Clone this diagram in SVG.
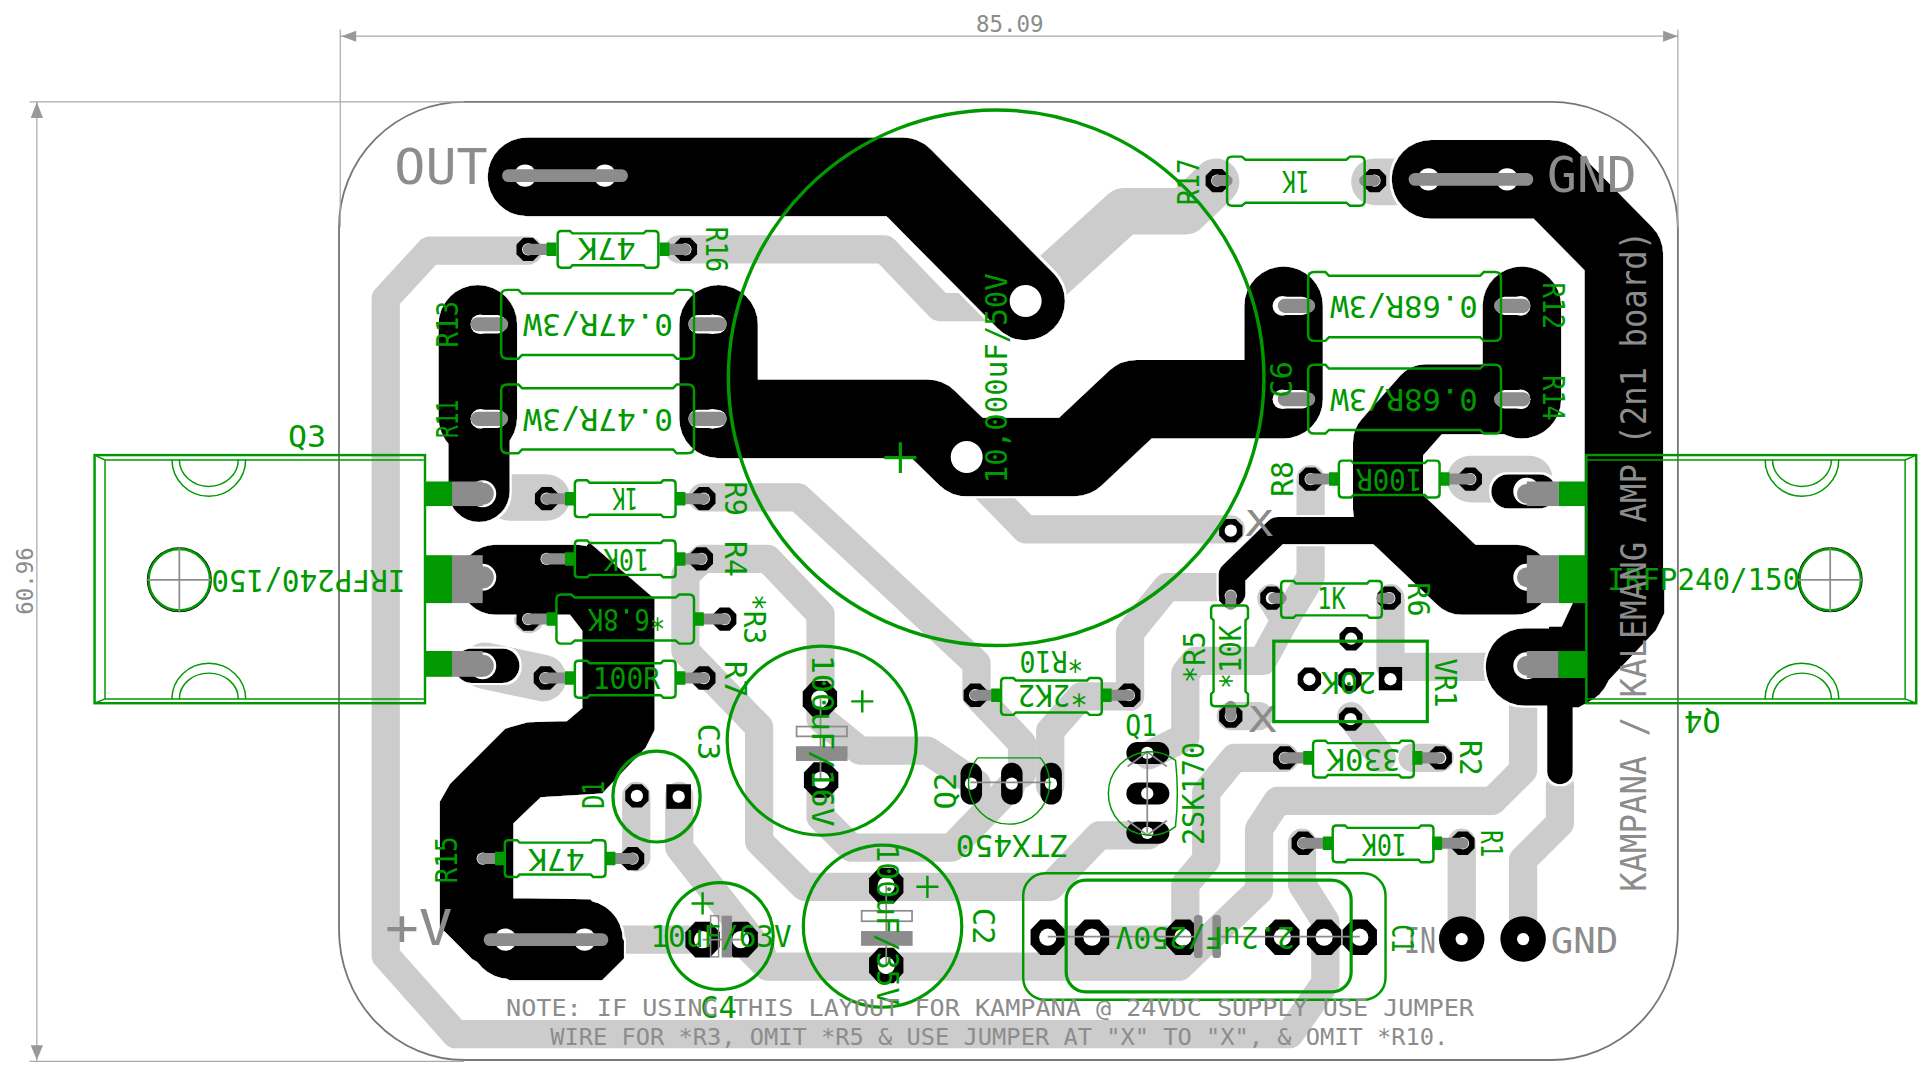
<svg xmlns="http://www.w3.org/2000/svg" xmlns:xlink="http://www.w3.org/1999/xlink" width="1926" height="1071" viewBox="0 0 1926 1071">
<style>
text{font-family:"DejaVu Sans Mono","Liberation Mono",monospace;text-anchor:middle}
.g{font-size:25px;fill:#009900}
.n{font-size:19px;fill:#8c8c8c}
.b{font-size:40px;fill:#8c8c8c}
.m{font-size:29px;fill:#8c8c8c}
.t{fill:none;stroke:#cccccc;stroke-width:23;stroke-linecap:round;stroke-linejoin:round}
.w{fill:none;stroke:#cccccc;stroke-width:38;stroke-linecap:round;stroke-linejoin:round}
.k{fill:none;stroke:#000;stroke-linecap:round;stroke-linejoin:round}
.o{fill:none;stroke:#009900;stroke-width:2}
.f{fill:none;stroke:#009900;stroke-width:1.2}
.c{fill:none;stroke:#009900;stroke-width:2.6}
.l{fill:none;stroke:#8c8c8c;stroke-width:9;stroke-linecap:round}
.lb{fill:none;stroke:#8c8c8c;stroke-width:11.5;stroke-linecap:round}
.lh{fill:none;stroke:#fff;stroke-width:15;stroke-linecap:round}
.s{fill:none;stroke:#009900;stroke-width:11}
.wire{fill:none;stroke:#8c8c8c;stroke-width:10.5;stroke-linecap:round}
.thin{fill:none;stroke:#8c8c8c;stroke-width:1.4}
.dim{fill:none;stroke:#aaaaaa;stroke-width:1}
.ah{fill:#999999}
.h{fill:#fff}
.gr{fill:#8c8c8c}
.gn{fill:#009900}
.hr{fill:none;stroke:#8c8c8c;stroke-width:1.4}
</style>
<defs>
<filter id="halo" filterUnits="userSpaceOnUse" x="0" y="0" width="1568" height="872">
<feMorphology in="SourceAlpha" operator="dilate" radius="2" result="d"/>
<feFlood flood-color="#ffffff"/>
<feComposite in2="d" operator="in" result="w"/>
<feMerge><feMergeNode in="w"/><feMergeNode in="SourceGraphic"/></feMerge>
</filter>
<g id="p"><polygon points="9.5,-4 9.5,4 4,9.5 -4,9.5 -9.5,4 -9.5,-4 -4,-9.5 4,-9.5"/><circle r="5" class="h"/></g>
<g id="P"><polygon points="14,-6 14,6 6,14.5 -6,14.5 -14,6 -14,-6 -6,-14.5 6,-14.5"/><circle r="7" class="h"/></g>
<path id="r82" class="o" d="M3 0H10L12 2H70L72 0H79Q82 0 82 3V27Q82 30 79 30H72L70 28H12L10 30H3Q0 30 0 27V3Q0 0 3 0Z"/>
<path id="r112" class="o" d="M4 0H12L15 2.5H97L100 0H108Q112 0 112 4V36Q112 40 108 40H100L97 37.500H15L12 40H4Q0 40 0 36V4Q0 0 4 0Z"/>
<path id="r157" class="o" d="M5 0H14L17 3H140L143 0H152Q157 0 157 5V51Q157 56 152 56H143L140 53H17L14 56H5Q0 56 0 51V5Q0 0 5 0Z"/>
<g id="tabL"><circle cx="391" r="11" class="h"/><ellipse cx="391" rx="9" ry="9" class="gr"/></g>
<path id="plus" class="o" d="M-9 0H9M0 -9V9"/>
</defs>
<rect width="1926" height="1071" fill="#fff"/>
<g transform="scale(1.22832)">

<g id="connectors">
<g id="traces-bottom">
<path class="t" d="M430 204H350L314 243V778L371 842H1050L1079 800V765"/>
<path class="t" d="M553 203H720L765 250H835"/>
<path class="w" d="M838 242L915 172H965L990 148"/>
<path class="w" d="M1119 148H1170"/>
<path class="t" d="M572 405H650L795 540V566"/>
<path class="t" d="M790 385L835 431H1002"/>
<path class="t" d="M572 455H625L668 500V585L700 611H755L795 638"/>
<path class="t" d="M572 455L558 468V530L618 592V685L655 722H855L895 680H935"/>
<path class="t" d="M668 635V665L693 690H775L823 640"/>
<path class="t" d="M795 566L832 605V630"/>
<path class="t" d="M920 567H880L855 595V640"/>
<path class="t" d="M920 567V515L950 478H1002"/>
<path class="t" d="M1035 487L1046 505L1028 538H973L965 548V600L935 615"/>
<path class="t" d="M1067 390V470L1046 505"/>
<path class="t" d="M1132 487V543H1216"/>
<path class="t" d="M1100 583L1125 617"/>
<path class="t" d="M1150 617H1172"/>
<path class="t" d="M1046 617H1005L982 645V700L965 720V765H853"/>
<path class="t" d="M603 765L625 787H960L1025 725V675L1040 652H1215L1240 627V545"/>
<path class="t" d="M1060 686V720L1079 750V770"/>
<path class="t" d="M1190 686V765"/>
<path class="t" d="M1240 765V700L1270 670V640"/>
<path class="t" d="M518 648V698"/>
<path class="t" d="M553 648V690L620 775"/>
<path class="t" d="M500 765H572"/>
<path class="t" d="M1002 583H1025"/>
<path class="t" d="M430 504H431"/>
<path class="w" d="M395 542L442 552"/>
<path class="w" d="M415 405H445"/>
<path class="w" d="M1197 390H1245"/>
</g>
<g id="traces-top" filter="url(#halo)">
<path class="k" stroke-width="64" d="M429 144H735L835 245"/>
<path class="k" stroke-width="64" d="M389 264V340"/>
<path class="k" stroke-width="50" d="M390 340V400"/>
<path class="k" stroke-width="64" d="M585 264V341H755L787 372H875L925 325H1045V249"/>
<path class="k" stroke-width="64" d="M1239 249V325"/>
<path class="k" stroke-width="57" d="M1239 325H1161L1130 360V415L1190 472H1234"/>
<path class="k" stroke-width="64" d="M1165 146H1262L1322 207V480"/>
<path class="k" stroke-width="57" d="M403 472H470"/>
<path class="k" stroke-width="28" d="M384 542H409"/>
<path class="k" stroke-width="28" d="M1228 400H1253"/>
<path class="k" stroke-width="63" d="M1241 543H1280"/>
<path class="k" stroke-width="21" d="M1270 575V628"/>
<path class="k" stroke-width="22" d="M1003 483V468L1040 432H1130"/>
<path class="k" stroke-width="64" d="M415 765H475"/>
<polygon stroke="#000" stroke-width="2" stroke-linejoin="round" points="1290,470 1354,470 1354,499 1347,513 1292,571 1285,575 1270,575 1262,511 1272,511 1281,492"/>
<polygon stroke="#000" stroke-width="2" stroke-linejoin="round" points="480,443 532,488 532,594 525,608 490,645 440,648 417,670 417,732 480,733 507,766 507,780 490,797 415,797 385,780 359,754 359,653 367,639 412,594 430,589 462,588 475,577 475,513 465,500 450,480"/>
</g>
</g>

<g id="board">
<path d="M378 83H1263A103 103 0 0 1 1366 185V757A103 106 0 0 1 1263 863H378A102 106 0 0 1 276 757V185A102 102 0 0 1 378 83Z" fill="none" stroke="#777" stroke-width="1.5"/>
</g>
<g id="dimensions">
<path class="dim" d="M277 24V185M1366 24V185M24 83H378M24 864H378M30 83V864M277 29.500H1366"/>
<polygon class="ah" points="278,29.500 290,25 290,34"/><polygon class="ah" points="1366,29.500 1354,25 1354,34"/>
<polygon class="ah" points="30,83 25,96 35,96"/><polygon class="ah" points="30,863 25,851 35,851"/>
<text class="n" transform="translate(822 19)" y="7" textLength="55" lengthAdjust="spacingAndGlyphs">85.09</text>
<text class="n" transform="translate(20 473) rotate(-90)" y="7" textLength="55" lengthAdjust="spacingAndGlyphs">60.96</text>
</g>

<g id="OUT"><circle cx="427.500" cy="143" r="9" class="h"/><circle cx="492.500" cy="143" r="9" class="h"/><path class="wire" d="M414 143H506"/>
<text class="b" transform="translate(359 135)" y="15" textLength="76" lengthAdjust="spacingAndGlyphs">OUT</text></g>
<g id="GND1"><circle cx="1163" cy="146" r="9" class="h"/><circle cx="1227" cy="146" r="9" class="h"/><path class="wire" d="M1152 146H1243"/>
<text class="b" transform="translate(1296 141)" y="15" textLength="73" lengthAdjust="spacingAndGlyphs">GND</text></g>
<g id="VPLUS"><circle cx="411.500" cy="765" r="9" class="h"/><circle cx="476" cy="765" r="9" class="h"/><path class="wire" d="M399 765H490"/>
<text class="b" transform="translate(341 754)" y="15" textLength="55" lengthAdjust="spacingAndGlyphs">+V</text></g>
<g id="IN"><circle cx="1190" cy="764.500" r="18.500"/><circle cx="1190" cy="764.500" r="5" class="h"/>
<text class="m" transform="translate(1156 765)" y="11" textLength="26" lengthAdjust="spacingAndGlyphs">IN</text></g>
<g id="GND2"><circle cx="1240" cy="764.500" r="18.500"/><circle cx="1240" cy="764.500" r="5" class="h"/>
<text class="m" transform="translate(1290 765)" y="11" textLength="55" lengthAdjust="spacingAndGlyphs">GND</text></g>

<g id="Q3">
<use href="#tabL" transform="translate(2 402)"/><use href="#tabL" transform="translate(2 470)"/><use href="#tabL" transform="translate(2 542)"/>
<rect x="368" y="392" width="25" height="20" class="gr"/><rect x="368" y="452" width="25" height="39" class="gr"/><rect x="368" y="530" width="25" height="21" class="gr"/>
<rect x="346" y="392" width="22" height="20" class="gn"/><rect x="346" y="452" width="22" height="39" class="gn"/><rect x="346" y="530" width="22" height="21" class="gn"/>
<rect x="77" y="370.500" width="269" height="202" class="o"/>
<path class="f" d="M85.500 374.500V569H345M77 370.500L85.500 374.500M77 572.500L85.500 569M85.500 374.500H345"/>
<path class="f" d="M140 374A30 30 0 0 0 200 374M146 374A24 22 0 0 0 194 374M140 569A30 29 0 0 1 200 569M146 569A24 21 0 0 1 194 569"/>
<circle cx="146" cy="472" r="26" fill="none" stroke="#000" stroke-width="1"/><circle cx="146" cy="472" r="25" class="o"/>
<path class="hr" d="M120 472H172M146 446V498"/>
<text class="g" transform="translate(250 355)" y="9" textLength="31" lengthAdjust="spacingAndGlyphs">Q3</text>
<text class="g" transform="translate(251 473) rotate(180)" y="9" textLength="158" lengthAdjust="spacingAndGlyphs">IRFP240/150</text>
</g>
<g id="Q4">
<circle cx="1243" cy="400" r="11" class="h"/><circle cx="1243" cy="470" r="11" class="h"/><circle cx="1243" cy="542" r="11" class="h"/>
<rect x="1243" y="392" width="26" height="20" class="gr"/><rect x="1243" y="452" width="26" height="39" class="gr"/><rect x="1243" y="530" width="26" height="22" class="gr"/>
<ellipse cx="1243" cy="402" rx="8" ry="8" class="gr"/><ellipse cx="1243" cy="470" rx="8" ry="8" class="gr"/><ellipse cx="1243" cy="542" rx="8" ry="8" class="gr"/>
<rect x="1269" y="392" width="22" height="20" class="gn"/><rect x="1269" y="452" width="22" height="39" class="gn"/><rect x="1269" y="530" width="22" height="22" class="gn"/>
<rect x="1291.500" y="370.500" width="268.500" height="202" class="o"/>
<path class="f" d="M1551 374.500V569H1292M1560 370.500L1551 374.500M1560 572.500L1551 569M1551 374.500H1292"/>
<path class="f" d="M1437 374A30 30 0 0 0 1497 374M1443 374A24 22 0 0 0 1491 374M1437 569A30 29 0 0 1 1497 569M1443 569A24 21 0 0 1 1491 569"/>
<circle cx="1490" cy="472" r="26" fill="none" stroke="#000" stroke-width="1"/><circle cx="1490" cy="472" r="25" class="o"/>
<path class="hr" d="M1464 472H1516M1490 446V498"/>
<text class="g" transform="translate(1386 588) rotate(180)" y="9" textLength="30" lengthAdjust="spacingAndGlyphs">Q4</text>
<text class="g" transform="translate(1387 471)" y="9" textLength="157" lengthAdjust="spacingAndGlyphs">IRFP240/150</text>
</g>

<g id="R16"><use href="#p" x="430" y="203"/><use href="#p" x="558" y="203"/><path class="l" d="M430 203H445M558 203H545"/><path class="s" d="M445 203H453M537 203H545"/><use href="#r82" x="454" y="188"/>
<text class="g" transform="translate(494 203) rotate(180)" y="9" textLength="47" lengthAdjust="spacingAndGlyphs">47K</text><text class="g" transform="translate(584 203) rotate(90)" y="9" textLength="37" lengthAdjust="spacingAndGlyphs">R16</text></g>

<g id="R9"><use href="#p" x="445" y="406"/><use href="#p" x="573" y="406"/><path class="l" d="M445 406H460M573 406H558"/><path class="s" d="M460 406H468M550 406H558"/><use href="#r82" x="468" y="391"/>
<text class="g" transform="translate(509 406) rotate(180)" y="9" textLength="21" lengthAdjust="spacingAndGlyphs">1K</text><text class="g" transform="translate(599 406) rotate(90)" y="9" textLength="28" lengthAdjust="spacingAndGlyphs">R9</text></g>

<g id="R4"><use href="#p" x="445" y="455"/><use href="#p" x="571" y="455"/><path class="l" d="M445 455H460M571 455H558"/><path class="s" d="M460 455H468M550 455H558"/><use href="#r82" x="468" y="440"/>
<text class="g" transform="translate(510 456) rotate(180)" y="9" textLength="37" lengthAdjust="spacingAndGlyphs">10K</text><text class="g" transform="translate(599 455) rotate(90)" y="9" textLength="29" lengthAdjust="spacingAndGlyphs">R4</text></g>

<g id="R3"><use href="#p" x="430" y="504"/><use href="#p" x="590" y="504"/><path class="l" d="M430 504H445M590 504H573"/><path class="s" d="M445 504H453M565 504H573"/><use href="#r112" x="453" y="484"/>
<text class="g" transform="translate(510 505) rotate(180)" y="9" textLength="63" lengthAdjust="spacingAndGlyphs">*6.8K</text><text class="g" transform="translate(615 504) rotate(90)" y="9" textLength="41" lengthAdjust="spacingAndGlyphs">*R3</text></g>

<g id="R7"><use href="#p" x="444" y="552"/><use href="#p" x="573" y="552"/><path class="l" d="M444 552H460M573 552H558"/><path class="s" d="M460 552H468M550 552H558"/><use href="#r82" x="468" y="538"/>
<text class="g" transform="translate(510 552)" y="9" textLength="55" lengthAdjust="spacingAndGlyphs">100R</text><text class="g" transform="translate(599 553) rotate(90)" y="9" textLength="30" lengthAdjust="spacingAndGlyphs">R7</text></g>

<g id="R13"><circle cx="391" cy="264" r="8" class="h"/><circle cx="580" cy="264" r="8" class="h"/><path class="lh" d="M391 264H405M584 264H568"/><path class="lb" d="M389 264H408M586 264H566"/><use href="#r157" x="408" y="236"/>
<text class="g" transform="translate(487 265) rotate(180)" y="9" textLength="122" lengthAdjust="spacingAndGlyphs">0.47R/3W</text><text class="g" transform="translate(364 264) rotate(-90)" y="9" textLength="38" lengthAdjust="spacingAndGlyphs">R13</text></g>
<g id="R11"><circle cx="391" cy="341" r="8" class="h"/><circle cx="580" cy="341" r="8" class="h"/><path class="lh" d="M391 341H405M584 341H568"/><path class="lb" d="M389 341H408M586 341H566"/><use href="#r157" x="408" y="313"/>
<text class="g" transform="translate(487 342) rotate(180)" y="9" textLength="122" lengthAdjust="spacingAndGlyphs">0.47R/3W</text><text class="g" transform="translate(364 341) rotate(-90)" y="9" textLength="31" lengthAdjust="spacingAndGlyphs">R11</text></g>
<g id="R12"><circle cx="1044" cy="249" r="8" class="h"/><circle cx="1238" cy="249" r="8" class="h"/><path class="lh" d="M1046 249H1060M1238 249H1225"/><path class="lb" d="M1046 249H1065M1240 249H1222"/><use href="#r157" x="1065" y="221.500"/>
<text class="g" transform="translate(1143 250) rotate(180)" y="9" textLength="120" lengthAdjust="spacingAndGlyphs">0.68R/3W</text><text class="g" transform="translate(1265 249) rotate(90)" y="9" textLength="38" lengthAdjust="spacingAndGlyphs">R12</text></g>
<g id="R14"><circle cx="1044" cy="325" r="8" class="h"/><circle cx="1238" cy="325" r="8" class="h"/><path class="lh" d="M1046 325H1060M1238 325H1225"/><path class="lb" d="M1046 325H1065M1240 325H1222"/><use href="#r157" x="1065" y="297"/>
<text class="g" transform="translate(1143 326) rotate(180)" y="9" textLength="120" lengthAdjust="spacingAndGlyphs">0.68R/3W</text><text class="g" transform="translate(1265 324) rotate(90)" y="9" textLength="37" lengthAdjust="spacingAndGlyphs">R14</text></g>

<g id="R17"><use href="#p" x="991" y="147"/><use href="#p" x="1119" y="147"/><path class="l" d="M991 147H999M1119 147H1111"/><use href="#r112" x="999" y="127.500"/>
<text class="g" transform="translate(1055 148) rotate(180)" y="9" textLength="22" lengthAdjust="spacingAndGlyphs">1K</text><text class="g" transform="translate(967 148) rotate(-90)" y="9" textLength="38" lengthAdjust="spacingAndGlyphs">R17</text></g>

<g id="R8"><use href="#p" x="1067" y="390"/><use href="#p" x="1197" y="390"/><path class="l" d="M1067 390H1082M1197 390H1180"/><path class="s" d="M1082 390H1090M1172 390H1180"/><use href="#r82" x="1090" y="375"/>
<text class="g" transform="translate(1131 391) rotate(180)" y="9" textLength="54" lengthAdjust="spacingAndGlyphs">100R</text><text class="g" transform="translate(1044 390) rotate(-90)" y="9" textLength="29" lengthAdjust="spacingAndGlyphs">R8</text></g>

<g id="R6"><use href="#p" x="1035.500" y="487"/><use href="#p" x="1131" y="487"/><path class="l" d="M1037 487H1043M1131 487H1125"/><use href="#r82" x="1043" y="473"/>
<text class="g" transform="translate(1084 487)" y="9" textLength="23" lengthAdjust="spacingAndGlyphs">1K</text><text class="g" transform="translate(1155 488) rotate(90)" y="9" textLength="28" lengthAdjust="spacingAndGlyphs">R6</text></g>

<g id="R5"><use href="#p" x="1002" y="485"/><use href="#p" x="1002" y="583"/><path class="l" d="M1002 485V492M1002 583V575"/><use href="#r82" transform="translate(1016 493) rotate(90)"/>
<text class="g" transform="translate(1001 535) rotate(-90)" y="9" textLength="52" lengthAdjust="spacingAndGlyphs">*10K</text><text class="g" transform="translate(972 535) rotate(-90)" y="9" textLength="42" lengthAdjust="spacingAndGlyphs">*R5</text></g>

<g id="JX"><use href="#p" x="1002" y="432"/>
<text class="m" transform="translate(1025 425)" y="11" textLength="23" lengthAdjust="spacingAndGlyphs">X</text>
<text class="m" transform="translate(1028 585)" y="11" textLength="23" lengthAdjust="spacingAndGlyphs">X</text></g>

<g id="VR1"><use href="#p" x="1100" y="520"/><use href="#p" x="1066" y="553"/><use href="#p" x="1099" y="553.500"/><use href="#p" x="1099.500" y="585.500"/>
<rect x="1122.500" y="543" width="19" height="19"/><circle cx="1132" cy="553" r="5" class="h"/>
<rect x="1037" y="522" width="125" height="65.500" class="c"/>
<text class="g" transform="translate(1098 556) rotate(180)" y="9" textLength="45" lengthAdjust="spacingAndGlyphs">20K</text><text class="g" transform="translate(1177 556) rotate(90)" y="9" textLength="40" lengthAdjust="spacingAndGlyphs">VR1</text></g>

<g id="R2"><use href="#p" x="1046" y="617"/><use href="#p" x="1172.500" y="617"/><path class="l" d="M1046 617H1061M1172 617H1158"/><path class="s" d="M1061 617H1069M1150 617H1158"/><use href="#r82" x="1069" y="603"/>
<text class="g" transform="translate(1110 619) rotate(180)" y="9" textLength="60" lengthAdjust="spacingAndGlyphs">330K</text><text class="g" transform="translate(1198 617) rotate(90)" y="9" textLength="29" lengthAdjust="spacingAndGlyphs">R2</text></g>

<g id="R1"><use href="#p" x="1061" y="686.500"/><use href="#p" x="1191" y="686.500"/><path class="l" d="M1061 686.500H1077M1191 686.500H1174"/><path class="s" d="M1077 686.500H1085M1166 686.500H1174"/><use href="#r82" x="1085" y="672"/>
<text class="g" transform="translate(1127 688) rotate(180)" y="9" textLength="37" lengthAdjust="spacingAndGlyphs">10K</text><text class="g" transform="translate(1215 687) rotate(90)" y="9" textLength="22" lengthAdjust="spacingAndGlyphs">R1</text></g>

<g id="R10"><use href="#p" x="794" y="566"/><use href="#p" x="919" y="566"/><path class="l" d="M794 566H807M919 566H905"/><path class="s" d="M807 566H815M897 566H905"/><use href="#r82" x="815" y="552"/>
<text class="g" transform="translate(857 567) rotate(180)" y="9" textLength="57" lengthAdjust="spacingAndGlyphs">*2K2</text><text class="g" transform="translate(856 539) rotate(180)" y="9" textLength="52" lengthAdjust="spacingAndGlyphs">*R10</text></g>

<g id="R15"><use href="#p" x="393" y="699"/><use href="#p" x="515" y="699"/><path class="l" d="M393 699H403M515 699H501"/><path class="s" d="M403 699H411M493 699H501"/><use href="#r82" x="411" y="684"/>
<text class="g" transform="translate(453 700) rotate(180)" y="9" textLength="46" lengthAdjust="spacingAndGlyphs">47K</text><text class="g" transform="translate(363 700) rotate(-90)" y="9" textLength="38" lengthAdjust="spacingAndGlyphs">R15</text></g>

<g id="C6"><circle cx="835" cy="245" r="13" class="h"/><circle cx="787" cy="372" r="13" class="h"/>
<circle cx="811" cy="307.500" r="218" fill="none" stroke="#009900" stroke-width="2.8"/>
<path class="c" d="M720 372.500H746M733 360V385"/>
<text class="g" transform="translate(811 308) rotate(-90)" y="9" textLength="171" lengthAdjust="spacingAndGlyphs">10,000uF/50V</text><text class="g" transform="translate(1043 309) rotate(-90)" y="9" textLength="30" lengthAdjust="spacingAndGlyphs">C6</text></g>

<g id="C3"><use href="#P" x="667.500" y="569"/><use href="#P" x="668.500" y="635"/><path class="thin" d="M668 569V635"/>
<rect x="648.500" y="591.500" width="41" height="8" fill="none" stroke="#8c8c8c" stroke-width="1.400"/><rect x="648" y="607.500" width="42" height="12" class="gr"/>
<circle cx="669" cy="603" r="77" class="c"/><use href="#plus" x="702" y="571"/>
<text class="g" transform="translate(670 603) rotate(90)" y="9" textLength="140" lengthAdjust="spacingAndGlyphs">100uF/16V</text><text class="g" transform="translate(577 604) rotate(90)" y="9" textLength="30" lengthAdjust="spacingAndGlyphs">C3</text></g>

<g id="C2"><use href="#P" x="721.500" y="721"/><use href="#P" x="721.500" y="786"/><path class="thin" d="M721.500 721V786"/>
<rect x="701.500" y="741.500" width="41" height="8.500" fill="none" stroke="#8c8c8c" stroke-width="1.400"/><rect x="701" y="758" width="42" height="12" class="gr"/>
<ellipse cx="718.500" cy="754" rx="64.500" ry="66" class="c"/><use href="#plus" x="755" y="722"/>
<text class="g" transform="translate(723 753) rotate(90)" y="9" textLength="131" lengthAdjust="spacingAndGlyphs">100uF/35V</text><text class="g" transform="translate(801 754) rotate(90)" y="9" textLength="30" lengthAdjust="spacingAndGlyphs">C2</text></g>

<g id="C4"><use href="#P" x="572" y="765"/><use href="#P" x="603" y="765"/><path class="thin" d="M572 765H603"/>
<rect x="578.500" y="745.500" width="6.500" height="33.500" fill="none" stroke="#8c8c8c" stroke-width="1.200"/><rect x="587.500" y="745.500" width="8.500" height="34" class="gr"/>
<circle cx="586" cy="762" r="43.500" class="c"/><use href="#plus" x="572" y="735.500"/>
<text class="g" transform="translate(587 762)" y="9" textLength="115" lengthAdjust="spacingAndGlyphs">10uF/63V</text><text class="g" transform="translate(585 820)" y="9" textLength="30" lengthAdjust="spacingAndGlyphs">C4</text></g>

<g id="C1"><use href="#P" x="853" y="763"/><use href="#P" x="889" y="763"/><use href="#P" x="963" y="763"/><use href="#P" x="1044" y="763"/><use href="#P" x="1078" y="763"/><use href="#P" x="1107" y="763"/>
<path class="thin" d="M853 762.500H972M994 762.500H1107"/>
<rect x="972" y="745" width="7" height="35" rx="3" class="gr"/><rect x="987" y="745" width="7" height="35" rx="3" class="gr"/>
<rect x="833" y="711" width="295" height="103" rx="18" class="o"/><rect x="868" y="716.500" width="232" height="91" rx="16" class="c"/>
<text class="g" transform="translate(981 764) rotate(180)" y="9" textLength="146" lengthAdjust="spacingAndGlyphs">2.2uF/250V</text><text class="g" transform="translate(1142 764) rotate(90)" y="9" textLength="23" lengthAdjust="spacingAndGlyphs">C1</text></g>

<g id="D1"><use href="#p" x="518.500" y="648"/><rect x="542.500" y="638.500" width="20" height="20"/><circle cx="552.500" cy="648.500" r="5" class="h"/>
<ellipse cx="534.500" cy="648.500" rx="35.500" ry="37" class="c"/>
<text class="g" transform="translate(483 647) rotate(-90)" y="9" textLength="23" lengthAdjust="spacingAndGlyphs">D1</text></g>

<g id="Q2"><rect x="782" y="621" width="17.500" height="34" rx="8.700"/><rect x="815" y="621" width="17.500" height="34" rx="8.700"/><rect x="847" y="621" width="17.500" height="34" rx="8.700"/>
<circle cx="790.600" cy="638" r="5" class="h"/><circle cx="823.600" cy="638" r="5" class="h"/><circle cx="855.600" cy="638" r="5" class="h"/>
<path class="thin" d="M790 637H856"/>
<path class="f" d="M796 617H847A33 33 0 1 1 796 617Z"/>
<text class="g" transform="translate(769 644) rotate(-90)" y="9" textLength="30" lengthAdjust="spacingAndGlyphs">Q2</text><text class="g" transform="translate(824 689) rotate(180)" y="9" textLength="92" lengthAdjust="spacingAndGlyphs">ZTX450</text></g>

<g id="Q1"><rect x="917" y="604" width="35" height="18" rx="9"/><rect x="917" y="637" width="35" height="18" rx="9"/><rect x="917" y="669" width="35" height="18" rx="9"/>
<circle cx="934" cy="613" r="5" class="h"/><circle cx="934" cy="646" r="5" class="h"/><circle cx="934" cy="678" r="5" class="h"/>
<path class="thin" d="M934 613V678M918 624L934 612L950 624M918 668L934 680L950 668"/>
<path class="f" d="M957 619A34 34 0 1 0 957 673Q960 646 957 619Z"/>
<text class="g" transform="translate(929 590)" y="9" textLength="26" lengthAdjust="spacingAndGlyphs">Q1</text><text class="g" transform="translate(971 646) rotate(-90)" y="9" textLength="84" lengthAdjust="spacingAndGlyphs">2SK170</text></g>

<g id="notes">
<text class="m" transform="translate(1330 457) rotate(-90)" y="10" textLength="538" lengthAdjust="spacingAndGlyphs">KAMPANA / KALEMANG AMP (2n1 board)</text>
<text class="n" transform="translate(806 820)" y="7" textLength="788" lengthAdjust="spacingAndGlyphs">NOTE: IF USING THIS LAYOUT FOR KAMPANA @ 24VDC SUPPLY USE JUMPER</text>
<text class="n" transform="translate(813.500 844)" y="7" textLength="731" lengthAdjust="spacingAndGlyphs">WIRE FOR *R3, OMIT *R5 &amp; USE JUMPER AT "X" TO "X", &amp; OMIT *R10.</text>
</g>
</g>
</svg>
